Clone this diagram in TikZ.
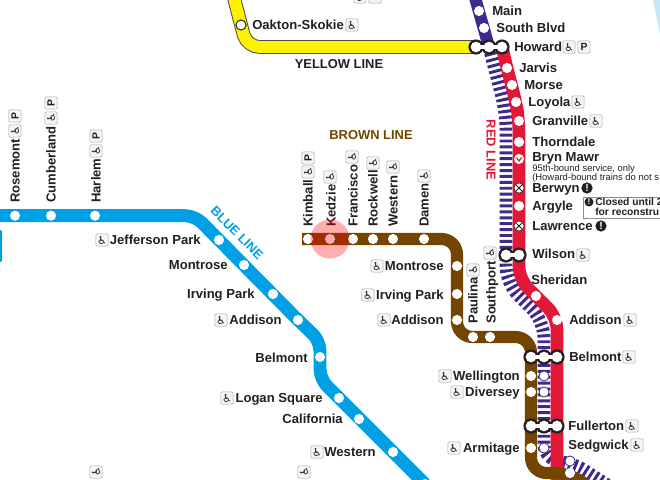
\documentclass[tikz,border=0pt]{standalone}
\usepackage{fontspec}
\setmainfont{Liberation Sans}
\newfontfamily\symfont{DejaVu Sans}
\usetikzlibrary{backgrounds}
\definecolor{ink}{HTML}{231F20}
\definecolor{blueln}{HTML}{00A1E4}
\definecolor{brownln}{HTML}{744500}
\definecolor{redln}{HTML}{E31837}
\definecolor{purpleln}{HTML}{3F2A8C}
\definecolor{yellowln}{HTML}{FFF200}
\definecolor{lake}{HTML}{C6E7F8}
\tikzset{
  halt/.style={circle,fill=white,inner sep=0pt,minimum size=7.2pt},
  ringhalt/.style={halt,draw=purpleln,line width=0.6pt},
  closedhalt/.style={halt,draw=ink,line width=0.4pt,path picture={
    \draw[ink,line width=0.7pt] (-4,-4) -- (4,4);
    \draw[ink,line width=0.7pt] (-4,4) -- (4,-4);}},
  xferout/.style={circle,fill=ink,inner sep=0pt,minimum size=10.8pt},
  xferin/.style={circle,fill=white,inner sep=0pt,minimum size=7.6pt},
  xferlink/.style={white,line width=2.8pt},
  stn/.style={font=\bfseries\fontsize{9.3}{9}\selectfont,text=ink,inner sep=0pt,text height=6.6pt,text depth=0pt},
  linename/.style={font=\bfseries\fontsize{9.2}{9}\selectfont,inner sep=0pt},
  icon/.style={draw=black!35,fill=black!4,rounded corners=0.8pt,line width=0.4pt,inner sep=0pt,
    minimum size=8.6pt,text=ink},
  wc/.style={icon,font=\symfont\fontsize{7.8}{8}\selectfont},
  pk/.style={icon,font=\bfseries\fontsize{7.4}{8}\selectfont},
  alert/.style={circle,fill=ink,text=white,inner sep=0pt,minimum size=8pt,font=\bfseries\fontsize{7.4}{7}\selectfont},
  smalltxt/.style={font=\fontsize{6.7}{7}\selectfont,text=ink,inner sep=0pt,text height=5pt,text depth=0pt},
  track/.style={line width=#1,rounded corners=9pt},
  stripes/.style={purpleln,line width=9.2pt,rounded corners=12pt,dash pattern=on 2.1pt off 2.1pt},
  closedtxt/.style={stn,font=\bfseries\fontsize{7.3}{8}\selectfont,text height=5.2pt,anchor=west},
}
\begin{document}
\begin{tikzpicture}[x=0.025cm,y=-0.025cm]
  \useasboundingbox (0,0) rectangle (660,480);

  % stations
  \foreach \x/\y/\nm in {15/215.7/rosemont,51/215.7/cumberland,95/215.7/harlem,219/240/jeffersonpk,244/265/blmontrose,
    273/294/blirving,298/320/bladdison,320/357/blbelmont,339/398/logansq,359/419/california,393/452/blwestern,425/484/blsouth}
    \node[halt] (\nm) at (\x,\y) {};
  \foreach \x/\y/\nm in {308/239/kimball,330/239/kedzie,353/239/francisco,373/239/rockwell,393/239/brwestern,424/239/damen,
    457/266/brmontrose,457/294/brirving,457/320/braddison,473/337/paulina,490/337/southport,
    531/376/wellington,531/392/diversey,531/448/armitage,570/473/brsouth}
    \node[halt] (\nm) at (\x,\y) {};
  \foreach \x/\y/\nm in {507/68/jarvis,512/85/morse,516/102/loyola,519/121/granville,519/142/thorndale,519/206/argyle,
    536/296/sheridan,557/320/rdaddison,479/11/main,484/28/southblvd}
    \node[halt] (\nm) at (\x,\y) {};
  \foreach \x/\y/\nm in {544/376/prwellington,544/392/prdiversey,544/448/prarmitage,570/461/sedgwick}
    \node[ringhalt] (\nm) at (\x,\y) {};
  \node[halt,draw=ink,line width=0.7pt] (oakton) at (241,25) {};
  \node[closedhalt] (berwyn) at (519,188) {};
  \node[closedhalt] (lawrence) at (519,226) {};
  \node[halt,path picture={\draw[redln,line width=0.8pt] (-2.5,-1.5) -- (0,2) -- (2.5,-1.5);}] (brynmawr) at (519,159) {};

  % transfer stations
  \foreach \x/\y/\nm in {476/47/howa,489/47/howb,502/47/howc,506/255/wila,519/255/wilb,
    531/357/bela,544/357/belb,557/357/belc,531/426/fula,544/426/fulb,557/426/fulc}
    \node[xferout] (\nm) at (\x,\y) {};
  \draw[xferlink] (howa.center) -- (howc.center);
  \draw[xferlink] (wila.center) -- (wilb.center);
  \draw[xferlink] (bela.center) -- (belc.center);
  \draw[xferlink] (fula.center) -- (fulc.center);
  \foreach \x/\y/\nm in {476/47/howai,489/47/howbi,502/47/howci,506/255/wilai,519/255/wilbi,
    531/357/belai,544/357/belbi,557/357/belci,531/426/fulai,544/426/fulbi,557/426/fulci}
    \node[xferin] (\nm) at (\x,\y) {};

  % lines
  \coordinate (bla) at (-5,215.7);
  \coordinate (blb) at (195,215.7);
  \coordinate (blc) at (320,341);
  \coordinate (bld) at (320,379);
  \coordinate (bra) at (302,239);
  \coordinate (brb) at (457,239);
  \coordinate (brc) at (457,337);
  \coordinate (brd) at (531,337);
  \coordinate (bre) at (531,473);
  \coordinate (brf) at (600,495);
  \coordinate (yla) at (233,-6);
  \coordinate (ylb) at (247,47);
  \coordinate (rda) at (519,279);
  \coordinate (rdb) at (557,317);
  \coordinate (rdc) at (557,490);
  \coordinate (pra) at (474,-6);
  \coordinate (prb) at (506,112);
  \coordinate (prc) at (506,283);
  \coordinate (prd) at (544,321);
  \coordinate (pre) at (544,461);
  \coordinate (prf) at (615,490);
  \begin{pgfonlayer}{background}
    \fill[lake] (653,0) -- (660,35) -- (660,0) -- cycle;
    \fill[blueln,rounded corners=1pt] (-3,230) rectangle (2,262);
    \draw[ink!80,track=9.8pt] (yla) -- (oakton.center) -- (ylb) -- (howa.center);
    \draw[yellowln,track=8.4pt] (yla) -- (oakton.center) -- (ylb) -- (howa.center);
    \draw[blueln,track=9.2pt,rounded corners=7pt] (bla) -- (blb) -- (jeffersonpk.center) -- (bladdison.center) -- (blc) -- (bld) -- (logansq.center) -- (blsouth.center);
    \draw[stripes] (howb.center) -- (prb) -- (prc) -- (prd) -- (pre) -- (sedgwick.center) -- (prf);
    \draw[purpleln,line width=8.6pt] (pra) -- (howb.center);
    \draw[redln,track=9pt] (howc.center) -- (jarvis.center) -- (loyola.center) -- (granville.center) -- (rda) -- (rdb) -- (rdc);
    \draw[brownln,track=8.6pt,rounded corners=11pt] (bra) -- (brb) -- (brc) -- (brd) -- (bre) -- (brsouth.center) -- (brf);
  \end{pgfonlayer}

  % line names
  \node[linename,text=ink] (ylname) at (339,64) {YELLOW LINE};
  \node[linename,text=brownln] (brname) at (371,135) {BROWN LINE};
  \node[linename,text=redln,rotate=-90] (rdname) at (491,150) {RED LINE};
  \node[linename,text=blueln,rotate=-45] (blname) at (237,233) {BLUE LINE};

  % labels reading left to right
  \foreach \x/\y/\nm/\txt in {252/25/oak/Oakton-Skokie,492/11/mai/Main,496/28/sou/South Blvd,514/47/how/Howard,519/68/jar/Jarvis,
    524/85/mor/Morse,528/102/loy/Loyola,532/121/gra/Granville,532/142/tho/Thorndale,532/157/bry/Bryn Mawr,532/188/ber/Berwyn,
    532/206/arg/Argyle,532/226/law/Lawrence,532/254/wil/Wilson,531/280/she/Sheridan,569/320/add/Addison,569/357/bel/Belmont,
    568/426/ful/Fullerton,568/445/sed/Sedgwick}
    \node[stn,anchor=west] (t\nm) at (\x,\y) {\txt};
  \foreach \x/\y/\nm/\txt in {201/240/jef/Jefferson Park,228/265/bmo/Montrose,255/294/bir/Irving Park,282/320/bad/Addison,
    308/358/bbe/Belmont,323/398/log/Logan Square,343/419/cal/California,376/452/bwe/Western,444/266/rmo/Montrose,
    444/295/rir/Irving Park,444/320/rad/Addison,520/376/wel/Wellington,520/392/div/Diversey,520/448/arm/Armitage}
    \node[stn,anchor=east] (t\nm) at (\x,\y) {\txt};

  % labels reading upward
  \foreach \x/\y/\nm/\txt in {15/203/ros/Rosemont,51/203/cum/Cumberland,96/203/har/Harlem,308/227/kim/Kimball,331/227/ked/Kedzie,
    353/227/fra/Francisco,373/227/roc/Rockwell,393/227/wes/Western,424/227/dam/Damen,473/324/pau/Paulina,491/324/spt/Southport}
    \node[stn,anchor=west,rotate=90] (t\nm) at (\x,\y) {\txt};

  % icons
  \foreach \x/\y [count=\i] in {352/25,569/47,578/102,596/121,583/255,630/320,629/357,632/426,637/445,
    102/240,221/320,227/398,317/452,377/266,368/295,384/320,445/376,457/392,454/448,360/-3}
    \node[wc] (wc\i) at (\x,\y) {♿};
  \foreach \x/\y [count=\i] in {15/131,51/118,96/151,308/172,330/177,352/157,373/163,393/167,424/176,473/270,490/253,96/472,304/472}
    \node[wc,rotate=90] (wr\i) at (\x,\y) {♿};
  \node[pk] (pkhow) at (584,47) {P};
  \node[pk] (pktop) at (375,-3) {P};
  \node[pk,rotate=90] (pkros) at (15,116) {P};
  \node[pk,rotate=90] (pkcum) at (51,103) {P};
  \node[pk,rotate=90] (pkhar) at (96,136) {P};
  \node[pk,rotate=90] (pkkim) at (308,158) {P};

  % service notes
  \node[smalltxt,anchor=west] (noteone) at (532,168) {95th-bound service, only};
  \node[smalltxt,anchor=west] (notetwo) at (532,177) {(Howard-bound trains do not s};
  \node[alert] (alber) at (587,188) {!};
  \node[alert] (allaw) at (601,226) {!};
  \coordinate (boxa) at (583,197);
  \coordinate (boxb) at (670,218);
  \draw[black!45,line width=0.6pt] (boxa) rectangle (boxb);
  \node[alert,minimum size=6.4pt,font=\bfseries\fontsize{6}{6}\selectfont] (albox) at (589,202) {!};
  \node[closedtxt] (closedone) at (595,202) {Closed until 2};
  \node[closedtxt] (closedtwo) at (595,212) {for reconstru};

  \fill[red,opacity=0.32] (kedzie) circle (19.5);
\end{tikzpicture}
\end{document}
